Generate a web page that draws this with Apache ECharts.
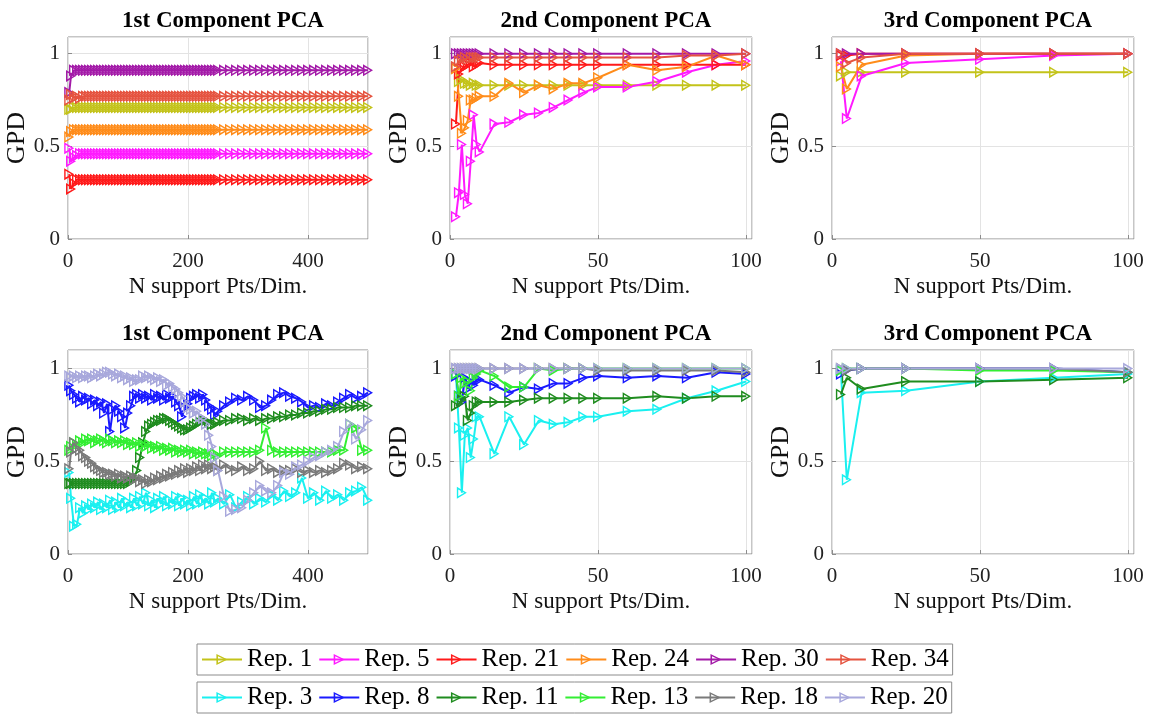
<!DOCTYPE html>
<html>
<head>
<meta charset="utf-8">
<script src="https://cdn.jsdelivr.net/npm/echarts@6.0.0/dist/echarts.min.js"></script>
<style>
  html, body { margin: 0; padding: 0; background: #fff; }
  #chart { width: 1151px; height: 718px; }
</style>
</head>
<body>
<div id="chart"></div>
<script>
// sample positions (N support pts / dim)
var xsLong = [2, 5, 10, 15, 20, 25, 30, 35, 40, 45,
  50, 55, 60, 65, 70, 75, 80, 85, 90, 95,
  100, 105, 110, 115, 120, 125, 130, 135, 140, 145,
  150, 155, 160, 165, 170, 175, 180, 185, 190, 195,
  200, 205, 210, 215, 220, 225, 230, 235, 240, 245,
  250, 260, 270, 280, 290, 300, 310, 320, 330, 340,
  350, 360, 370, 380, 390, 400, 410, 420, 430, 440,
  450, 460, 470, 480, 490, 500];
var xsMid = [2, 3, 4, 5, 6, 7, 8, 9, 10, 15, 20, 25, 30, 35, 40, 45, 50, 60, 70, 80, 90, 100];
var xsShort = [3, 5, 10, 25, 50, 75, 100];

var titles = ['1st Component PCA', '2nd Component PCA', '3rd Component PCA'];
var xTicksLong = [0, 200, 400];
var xTicksShort = [0, 50, 100];
var yTicks = [0, 0.5, 1];

var legendRow1 = ['Rep. 1', 'Rep. 5', 'Rep. 21', 'Rep. 24', 'Rep. 30', 'Rep. 34'];
var legendRow2 = ['Rep. 3', 'Rep. 8', 'Rep. 11', 'Rep. 13', 'Rep. 18', 'Rep. 20'];

// ---- top row, 1st component ----
var t1Rep1 = [0.70, 0.70, 0.71, 0.71, 0.71, 0.71, 0.71, 0.71, 0.71, 0.71,
  0.71, 0.71, 0.71, 0.71, 0.71, 0.71, 0.71, 0.71, 0.71, 0.71,
  0.71, 0.71, 0.71, 0.71, 0.71, 0.71, 0.71, 0.71, 0.71, 0.71,
  0.71, 0.71, 0.71, 0.71, 0.71, 0.71, 0.71, 0.71, 0.71, 0.71,
  0.71, 0.71, 0.71, 0.71, 0.71, 0.71, 0.71, 0.71, 0.71, 0.71,
  0.71, 0.71, 0.71, 0.71, 0.71, 0.71, 0.71, 0.71, 0.71, 0.71,
  0.71, 0.71, 0.71, 0.71, 0.71, 0.71, 0.71, 0.71, 0.71, 0.71,
  0.71, 0.71, 0.71, 0.71, 0.71, 0.71];
var t1Rep5 = [0.49, 0.42, 0.44, 0.45, 0.46, 0.46, 0.46, 0.46, 0.46, 0.46,
  0.46, 0.46, 0.46, 0.46, 0.46, 0.46, 0.46, 0.46, 0.46, 0.46,
  0.46, 0.46, 0.46, 0.46, 0.46, 0.46, 0.46, 0.46, 0.46, 0.46,
  0.46, 0.46, 0.46, 0.46, 0.46, 0.46, 0.46, 0.46, 0.46, 0.46,
  0.46, 0.46, 0.46, 0.46, 0.46, 0.46, 0.46, 0.46, 0.46, 0.46,
  0.46, 0.46, 0.46, 0.46, 0.46, 0.46, 0.46, 0.46, 0.46, 0.46,
  0.46, 0.46, 0.46, 0.46, 0.46, 0.46, 0.46, 0.46, 0.46, 0.46,
  0.46, 0.46, 0.46, 0.46, 0.46, 0.46];
var t1Rep21 = [0.35, 0.27, 0.30, 0.32, 0.32, 0.32, 0.32, 0.32, 0.32, 0.32,
  0.32, 0.32, 0.32, 0.32, 0.32, 0.32, 0.32, 0.32, 0.32, 0.32,
  0.32, 0.32, 0.32, 0.32, 0.32, 0.32, 0.32, 0.32, 0.32, 0.32,
  0.32, 0.32, 0.32, 0.32, 0.32, 0.32, 0.32, 0.32, 0.32, 0.32,
  0.32, 0.32, 0.32, 0.32, 0.32, 0.32, 0.32, 0.32, 0.32, 0.32,
  0.32, 0.32, 0.32, 0.32, 0.32, 0.32, 0.32, 0.32, 0.32, 0.32,
  0.32, 0.32, 0.32, 0.32, 0.32, 0.32, 0.32, 0.32, 0.32, 0.32,
  0.32, 0.32, 0.32, 0.32, 0.32, 0.32];
var t1Rep24 = [0.55, 0.58, 0.59, 0.59, 0.59, 0.59, 0.59, 0.59, 0.59, 0.59,
  0.59, 0.59, 0.59, 0.59, 0.59, 0.59, 0.59, 0.59, 0.59, 0.59,
  0.59, 0.59, 0.59, 0.59, 0.59, 0.59, 0.59, 0.59, 0.59, 0.59,
  0.59, 0.59, 0.59, 0.59, 0.59, 0.59, 0.59, 0.59, 0.59, 0.59,
  0.59, 0.59, 0.59, 0.59, 0.59, 0.59, 0.59, 0.59, 0.59, 0.59,
  0.59, 0.59, 0.59, 0.59, 0.59, 0.59, 0.59, 0.59, 0.59, 0.59,
  0.59, 0.59, 0.59, 0.59, 0.59, 0.59, 0.59, 0.59, 0.59, 0.59,
  0.59, 0.59, 0.59, 0.59, 0.59, 0.59];
var t1Rep30 = [0.79, 0.88, 0.91, 0.91, 0.91, 0.91, 0.91, 0.91, 0.91, 0.91,
  0.91, 0.91, 0.91, 0.91, 0.91, 0.91, 0.91, 0.91, 0.91, 0.91,
  0.91, 0.91, 0.91, 0.91, 0.91, 0.91, 0.91, 0.91, 0.91, 0.91,
  0.91, 0.91, 0.91, 0.91, 0.91, 0.91, 0.91, 0.91, 0.91, 0.91,
  0.91, 0.91, 0.91, 0.91, 0.91, 0.91, 0.91, 0.91, 0.91, 0.91,
  0.91, 0.91, 0.91, 0.91, 0.91, 0.91, 0.91, 0.91, 0.91, 0.91,
  0.91, 0.91, 0.91, 0.91, 0.91, 0.91, 0.91, 0.91, 0.91, 0.91,
  0.91, 0.91, 0.91, 0.91, 0.91, 0.91];
var t1Rep34 = [0.75, 0.78, 0.76, 0.77, 0.76, 0.77, 0.77, 0.77, 0.77, 0.77,
  0.77, 0.77, 0.77, 0.77, 0.77, 0.77, 0.77, 0.77, 0.77, 0.77,
  0.77, 0.77, 0.77, 0.77, 0.77, 0.77, 0.77, 0.77, 0.77, 0.77,
  0.77, 0.77, 0.77, 0.77, 0.77, 0.77, 0.77, 0.77, 0.77, 0.77,
  0.77, 0.77, 0.77, 0.77, 0.77, 0.77, 0.77, 0.77, 0.77, 0.77,
  0.77, 0.77, 0.77, 0.77, 0.77, 0.77, 0.77, 0.77, 0.77, 0.77,
  0.77, 0.77, 0.77, 0.77, 0.77, 0.77, 0.77, 0.77, 0.77, 0.77,
  0.77, 0.77, 0.77, 0.77, 0.77, 0.77];

// ---- top row, 2nd component ----
var t2Rep1 = [0.92, 0.85, 0.86, 0.84, 0.84, 0.83, 0.84, 0.83, 0.83, 0.83, 0.83, 0.83, 0.83, 0.83, 0.83, 0.83, 0.83, 0.83, 0.83, 0.83, 0.83, 0.83];
var t2Rep5 = [0.12, 0.25, 0.51, 0.24, 0.19, 0.42, 0.67, 0.51, 0.47, 0.62, 0.63, 0.67, 0.68, 0.71, 0.75, 0.79, 0.82, 0.82, 0.85, 0.90, 0.94, 0.96];
var t2Rep21 = [0.62, 0.89, 0.92, 0.93, 0.94, 0.95, 0.93, 0.94, 0.95, 0.94, 0.94, 0.94, 0.94, 0.94, 0.94, 0.94, 0.94, 0.94, 0.94, 0.94, 0.94, 0.94];
var t2Rep24 = [0.92, 0.77, 0.57, 0.60, 0.64, 0.75, 0.75, 0.76, 0.77, 0.77, 0.84, 0.79, 0.83, 0.81, 0.84, 0.84, 0.87, 0.94, 0.91, 0.93, 0.99, 0.94];
var t2Rep30 = [1.0, 1.0, 1.0, 1.0, 1.0, 1.0, 1.0, 1.0, 1.0, 1.0, 1.0, 1.0, 1.0, 1.0, 1.0, 1.0, 1.0, 1.0, 1.0, 1.0, 1.0, 1.0];
var t2Rep34 = [0.93, 0.96, 0.97, 0.98, 0.97, 0.98, 0.98, 0.98, 0.98, 0.98, 0.98, 0.98, 0.98, 0.98, 0.98, 0.98, 0.98, 0.98, 0.98, 0.99, 0.99, 1.0];

// ---- top row, 3rd component ----
var t3Rep1 = [0.88, 0.90, 0.90, 0.90, 0.90, 0.90, 0.90];
var t3Rep5 = [0.96, 0.65, 0.88, 0.95, 0.97, 0.99, 1.0];
var t3Rep21 = [0.99, 0.99, 1.0, 1.0, 1.0, 1.0, 1.0];
var t3Rep24 = [0.93, 0.81, 0.94, 0.99, 1.0, 1.0, 1.0];
var t3Rep30 = [1.0, 1.0, 1.0, 1.0, 1.0, 1.0, 1.0];
var t3Rep34 = [1.0, 0.95, 0.98, 1.0, 1.0, 1.0, 1.0];

// ---- bottom row, 1st component ----
var b1Rep3 = [0.44, 0.30, 0.15, 0.16, 0.25, 0.22, 0.26, 0.24, 0.27, 0.25,
  0.28, 0.24, 0.27, 0.25, 0.29, 0.24, 0.28, 0.25, 0.30, 0.26,
  0.28, 0.25, 0.30, 0.26, 0.31, 0.27, 0.33, 0.26, 0.29, 0.25,
  0.30, 0.27, 0.31, 0.26, 0.29, 0.27, 0.31, 0.26, 0.30, 0.27,
  0.29, 0.26, 0.31, 0.27, 0.32, 0.28, 0.30, 0.27, 0.33, 0.28,
  0.30, 0.27, 0.32, 0.25, 0.28, 0.31, 0.27, 0.30, 0.28, 0.32,
  0.29, 0.34, 0.31, 0.33, 0.41, 0.30, 0.33, 0.29, 0.34, 0.30,
  0.32, 0.29, 0.33, 0.34, 0.36, 0.29];
var b1Rep8 = [0.91, 0.88, 0.86, 0.84, 0.82, 0.85, 0.83, 0.84, 0.81, 0.83,
  0.80, 0.82, 0.76, 0.81, 0.66, 0.78, 0.80, 0.77, 0.74, 0.68,
  0.76, 0.80, 0.85, 0.86, 0.84, 0.86, 0.84, 0.85, 0.83, 0.86,
  0.84, 0.85, 0.83, 0.86, 0.84, 0.85, 0.82, 0.80, 0.74, 0.79,
  0.81, 0.84, 0.85, 0.86, 0.84, 0.86, 0.83, 0.80, 0.78, 0.75,
  0.77, 0.80, 0.82, 0.84, 0.83, 0.85, 0.83, 0.79, 0.80, 0.83,
  0.86, 0.87, 0.85, 0.84, 0.82, 0.79, 0.80, 0.79, 0.81, 0.80,
  0.82, 0.84, 0.86, 0.84, 0.85, 0.87];
var b1Rep11 = [0.38, 0.38, 0.38, 0.38, 0.38, 0.38, 0.38, 0.38, 0.38, 0.38,
  0.38, 0.38, 0.38, 0.38, 0.38, 0.38, 0.38, 0.38, 0.38, 0.38,
  0.38, 0.39, 0.41, 0.45, 0.52, 0.60, 0.66, 0.69, 0.70, 0.71,
  0.72, 0.72, 0.73, 0.73, 0.72, 0.71, 0.70, 0.69, 0.68, 0.67,
  0.67, 0.68, 0.69, 0.70, 0.71, 0.72, 0.72, 0.71, 0.70, 0.70,
  0.71, 0.72, 0.72, 0.73, 0.73, 0.72, 0.73, 0.72, 0.73, 0.73,
  0.74, 0.74, 0.75, 0.75, 0.76, 0.76, 0.77, 0.77, 0.78, 0.78,
  0.79, 0.79, 0.79, 0.80, 0.80, 0.80];
var b1Rep13 = [0.56, 0.58, 0.60, 0.59, 0.61, 0.60, 0.62, 0.61, 0.62, 0.60,
  0.61, 0.62, 0.61, 0.60, 0.62, 0.61, 0.60, 0.61, 0.60, 0.61,
  0.59, 0.60, 0.59, 0.60, 0.58, 0.59, 0.58, 0.59, 0.57, 0.58,
  0.57, 0.58, 0.56, 0.57, 0.56, 0.57, 0.55, 0.56, 0.55, 0.56,
  0.55, 0.56, 0.54, 0.55, 0.54, 0.55, 0.54, 0.54, 0.53, 0.54,
  0.53, 0.55, 0.55, 0.55, 0.55, 0.55, 0.55, 0.56, 0.68, 0.56,
  0.55, 0.55, 0.55, 0.55, 0.55, 0.55, 0.55, 0.55, 0.55, 0.55,
  0.56, 0.56, 0.70, 0.68, 0.56, 0.56];
var b1Rep18 = [0.46, 0.55, 0.60, 0.57, 0.56, 0.53, 0.52, 0.50, 0.49, 0.47,
  0.46, 0.45, 0.44, 0.44, 0.43, 0.43, 0.42, 0.43, 0.41, 0.42,
  0.41, 0.42, 0.40, 0.41, 0.39, 0.40, 0.38, 0.40, 0.39, 0.41,
  0.40, 0.42, 0.41, 0.43, 0.42, 0.44, 0.43, 0.45, 0.44, 0.46,
  0.44, 0.46, 0.45, 0.47, 0.45, 0.48, 0.46, 0.48, 0.46, 0.47,
  0.45, 0.48, 0.46, 0.45, 0.47, 0.45, 0.46, 0.50, 0.45, 0.46,
  0.44, 0.45, 0.45, 0.46, 0.44, 0.45, 0.44, 0.45, 0.44, 0.45,
  0.46, 0.49, 0.48, 0.46, 0.47, 0.46];
var b1Rep20 = [0.96, 0.95, 0.96, 0.95, 0.96, 0.95, 0.96, 0.96, 0.95, 0.96,
  0.97, 0.96, 0.97, 0.98, 0.98, 0.97, 0.96, 0.97, 0.95, 0.96,
  0.94, 0.95, 0.93, 0.94, 0.94, 0.96, 0.95, 0.96, 0.95, 0.94,
  0.95, 0.93, 0.94, 0.91, 0.92, 0.90, 0.89, 0.87, 0.85, 0.82,
  0.79, 0.78, 0.76, 0.77, 0.74, 0.73, 0.70, 0.64, 0.58, 0.52,
  0.45, 0.31, 0.23, 0.24, 0.25, 0.29, 0.33, 0.37, 0.34, 0.33,
  0.37, 0.44, 0.43, 0.47, 0.48, 0.50, 0.52, 0.53, 0.55, 0.56,
  0.58, 0.66, 0.70, 0.62, 0.67, 0.72];

// ---- bottom row, 2nd component ----
var b2Rep3 = [0.97, 0.68, 0.33, 0.64, 0.68, 0.52, 0.62, 0.74, 0.74, 0.54, 0.74, 0.59, 0.72, 0.70, 0.71, 0.74, 0.74, 0.77, 0.78, 0.84, 0.88, 0.93];
var b2Rep8 = [0.96, 0.85, 0.82, 0.95, 0.89, 0.93, 0.91, 0.94, 0.94, 0.91, 0.87, 0.90, 0.89, 0.92, 0.92, 0.95, 0.96, 0.95, 0.96, 0.95, 0.98, 0.97];
var b2Rep11 = [0.80, 0.81, 0.83, 0.85, 0.72, 0.76, 0.80, 0.82, 0.82, 0.82, 0.82, 0.83, 0.84, 0.84, 0.84, 0.84, 0.84, 0.84, 0.85, 0.84, 0.85, 0.85];
var b2Rep13 = [0.97, 0.85, 0.95, 0.92, 0.93, 0.88, 0.95, 0.97, 0.99, 0.96, 0.90, 0.90, 1.0, 0.99, 1.0, 1.0, 1.0, 1.0, 1.0, 1.0, 1.0, 1.0];
var b2Rep18 = [1.0, 1.0, 1.0, 1.0, 1.0, 1.0, 1.0, 1.0, 1.0, 1.0, 1.0, 1.0, 1.0, 1.0, 1.0, 1.0, 0.99, 0.99, 0.99, 0.99, 0.99, 0.98];
var b2Rep20 = [1.0, 1.0, 1.0, 1.0, 1.0, 1.0, 1.0, 1.0, 1.0, 1.0, 1.0, 1.0, 1.0, 1.0, 1.0, 1.0, 1.0, 1.0, 1.0, 1.0, 1.0, 1.0];

// ---- bottom row, 3rd component ----
var b3Rep3 = [0.99, 0.40, 0.87, 0.88, 0.93, 0.95, 0.97];
var b3Rep8 = [0.97, 0.99, 1.0, 1.0, 1.0, 1.0, 0.98];
var b3Rep11 = [0.86, 0.95, 0.89, 0.93, 0.93, 0.94, 0.95];
var b3Rep13 = [0.99, 1.0, 1.0, 1.0, 0.99, 0.99, 0.98];
var b3Rep18 = [1.0, 0.99, 1.0, 1.0, 1.0, 1.0, 0.98];
var b3Rep20 = [1.0, 1.0, 1.0, 1.0, 1.0, 1.0, 1.0];

var colors = {
  'Rep. 1': '#c3c31a', 'Rep. 5': '#ff1aff', 'Rep. 21': '#ff1a1a',
  'Rep. 24': '#ff8c1a', 'Rep. 30': '#a31aa8', 'Rep. 34': '#e5533f',
  'Rep. 3': '#1af0f0', 'Rep. 8': '#1a1aff', 'Rep. 11': '#1f8c1f',
  'Rep. 13': '#33ee33', 'Rep. 18': '#7a7a7a', 'Rep. 20': '#a8a8dc'
};

var panels = [
  { title: titles[0], xs: xsLong, xmax: 500, ticks: xTicksLong, names: legendRow1, vals: [t1Rep1, t1Rep5, t1Rep21, t1Rep24, t1Rep30, t1Rep34] },
  { title: titles[1], xs: xsMid, xmax: 102, ticks: xTicksShort, names: legendRow1, vals: [t2Rep1, t2Rep5, t2Rep21, t2Rep24, t2Rep30, t2Rep34] },
  { title: titles[2], xs: xsShort, xmax: 102, ticks: xTicksShort, names: legendRow1, vals: [t3Rep1, t3Rep5, t3Rep21, t3Rep24, t3Rep30, t3Rep34] },
  { title: titles[0], xs: xsLong, xmax: 500, ticks: xTicksLong, names: legendRow2, vals: [b1Rep3, b1Rep8, b1Rep11, b1Rep13, b1Rep18, b1Rep20] },
  { title: titles[1], xs: xsMid, xmax: 102, ticks: xTicksShort, names: legendRow2, vals: [b2Rep3, b2Rep8, b2Rep11, b2Rep13, b2Rep18, b2Rep20] },
  { title: titles[2], xs: xsShort, xmax: 102, ticks: xTicksShort, names: legendRow2, vals: [b3Rep3, b3Rep8, b3Rep11, b3Rep13, b3Rep18, b3Rep20] }
];

// layout of the 2x3 axes boxes
var colLeft = [68, 450, 832];
var colWidth = [300, 302, 302];
var rowTop = [37, 350];
var rowHeight = [202, 204];
var rowYMax = [1.09, 1.1];

// hollow right-pointing triangle, like matlab '>' markers
var triMarker = 'path://M0,0L10,6L0,12Z M1.4,2.6L1.4,9.4L7.3,6Z';
var serif = 'Liberation Serif';

function zip(xs, ys) {
  var out = [];
  for (var i = 0; i < ys.length && i < xs.length; i++) out.push([xs[i], ys[i]]);
  return out;
}

var grids = [], xAxes = [], yAxes = [], titleOpts = [], series = [];

panels.forEach(function (p, k) {
  var col = k % 3, row = Math.floor(k / 3);
  grids.push({
    left: colLeft[col], top: rowTop[row], width: colWidth[col], height: rowHeight[row],
    show: true, borderColor: '#8c8c8c', borderWidth: 1, backgroundColor: '#fff'
  });
  titleOpts.push({
    text: p.title,
    left: colLeft[col] + colWidth[col] / 2,
    top: rowTop[row] - 32,
    textAlign: 'center',
    textStyle: { fontFamily: serif, fontWeight: 'bold', fontSize: 23, color: '#000' }
  });
  xAxes.push({
    type: 'value', gridIndex: k, min: 0, max: p.xmax, interval: p.ticks[1] - p.ticks[0],
    name: 'N support Pts/Dim.', nameLocation: 'middle', nameGap: 36,
    nameTextStyle: { fontFamily: serif, fontSize: 23, color: '#111' },
    axisLine: { show: false },
    axisTick: { show: true, inside: true, length: 4, lineStyle: { color: '#8c8c8c' } },
    axisLabel: {
      fontFamily: serif, fontSize: 21, color: '#222', margin: 12,
      showMaxLabel: false,
      formatter: function (v) { return p.ticks.indexOf(v) >= 0 ? String(v) : ''; }
    },
    splitLine: { show: true, lineStyle: { color: '#e3e3e3', width: 1 } }
  });
  yAxes.push({
    type: 'value', gridIndex: k, min: 0, max: rowYMax[row], interval: 0.5,
    name: 'GPD', nameLocation: 'middle', nameGap: 38,
    nameTextStyle: { fontFamily: serif, fontSize: 26, color: '#111' },
    axisLine: { show: false },
    axisTick: { show: true, inside: true, length: 4, lineStyle: { color: '#8c8c8c' } },
    axisLabel: {
      fontFamily: serif, fontSize: 21, color: '#222', margin: 8,
      showMaxLabel: false,
      formatter: function (v) { return yTicks.indexOf(v) >= 0 ? String(v) : ''; }
    },
    splitLine: { show: true, lineStyle: { color: '#e3e3e3', width: 1 } }
  });
  p.names.forEach(function (nm, j) {
    series.push({
      name: nm,
      type: 'line',
      xAxisIndex: k,
      yAxisIndex: k,
      data: zip(p.xs, p.vals[j]),
      symbol: triMarker,
      symbolSize: 12,
      symbolKeepAspect: true,
      showAllSymbol: true,
      color: colors[nm],
      lineStyle: { width: 2, color: colors[nm] },
      itemStyle: { color: colors[nm] },
      emphasis: { disabled: true },
      z: 2
    });
  });
});

function legendRow(names, top) {
  return {
    data: names,
    left: 197,
    top: top,
    orient: 'horizontal',
    itemWidth: 40,
    itemHeight: 14,
    itemGap: 6,
    padding: [3, 4, 3, 4],
    borderColor: '#8c8c8c',
    borderWidth: 1,
    backgroundColor: '#fff',
    textStyle: { fontFamily: serif, fontSize: 25, color: '#000' },
    selectedMode: false
  };
}

var chart = echarts.init(document.getElementById('chart'));
chart.setOption({
  animation: false,
  backgroundColor: '#fff',
  title: titleOpts,
  grid: grids,
  xAxis: xAxes,
  yAxis: yAxes,
  legend: [legendRow(legendRow1, 644), legendRow(legendRow2, 682)],
  series: series
});
</script>
</body>
</html>
